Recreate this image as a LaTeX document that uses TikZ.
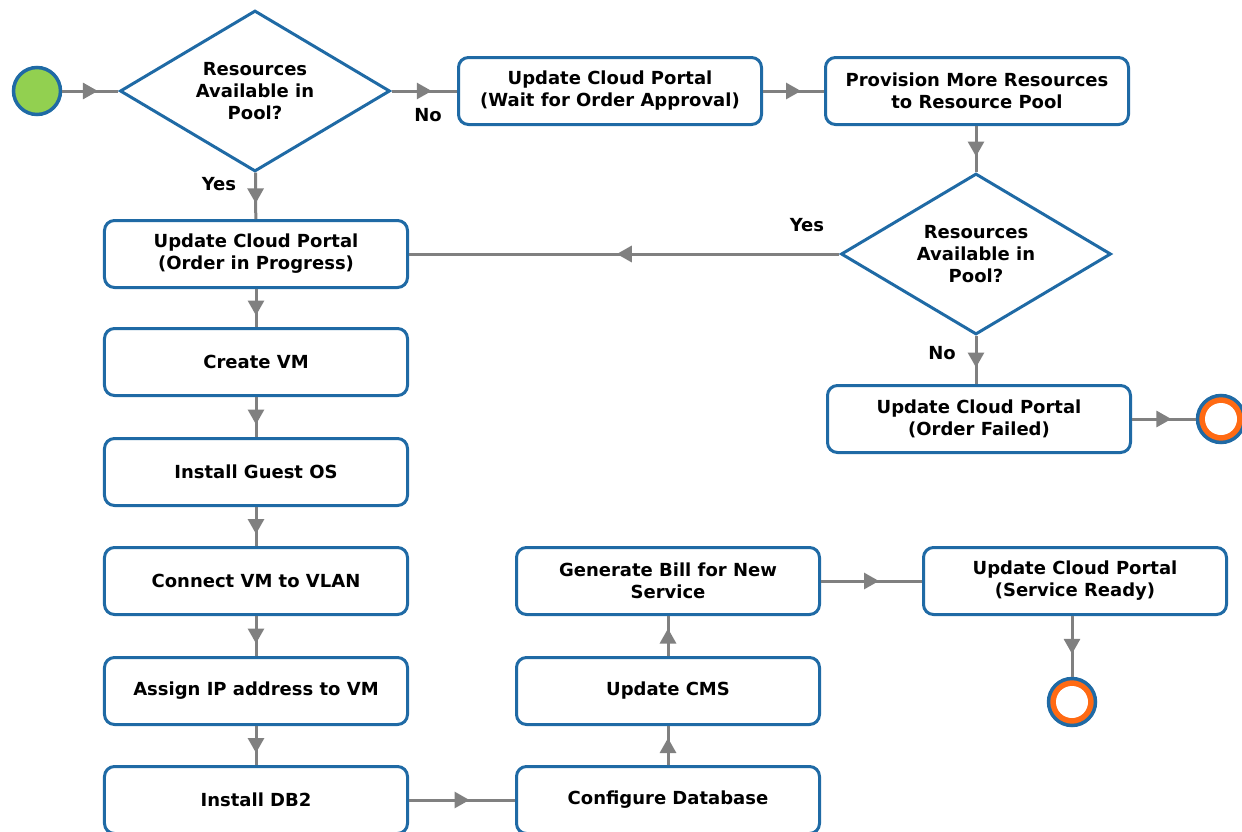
\documentclass[tikz,border=0pt]{standalone}
\usepackage{fontspec}
\setmainfont{DejaVu Sans}
\usetikzlibrary{shapes.geometric,arrows.meta,decorations.markings}
\definecolor{myblue}{HTML}{1F6AA5}
\definecolor{mygreen}{HTML}{92D050}
\definecolor{myorange}{HTML}{FF6A13}
\definecolor{mygray}{HTML}{808080}
\tikzset{
  every node/.style={font=\fontsize{18bp}{22bp}\selectfont\bfseries},
  box/.style={draw=myblue, line width=3bp, rounded corners=10bp, fill=white,
    minimum width=303bp, minimum height=67bp, align=center, inner sep=0pt},
  decision/.style={diamond, draw=myblue, line width=3bp, fill=white,
    minimum width=270bp, minimum height=161bp, inner sep=0pt,
    label={[align=center, inner sep=0pt]center:#1}},
  startc/.style={circle, draw=myblue, line width=3.5bp, fill=mygreen, minimum size=47bp, inner sep=0pt},
  endc/.style={circle, draw=myblue, line width=3.5bp, fill=myorange, minimum size=47bp, inner sep=0pt,
    path picture={\fill[white] (path picture bounding box.center) circle (16bp);}},
  conn/.style={draw=mygray, line width=3bp, postaction={decorate},
    decoration={markings, mark=at position 0.5 with {\arrow[mygray,xshift=7.5bp]{Triangle[length=15bp,width=16bp]}}}},
  lbl/.style={inner sep=0pt}
}
\begin{document}
\begin{tikzpicture}[x=1bp,y=-1bp]
\useasboundingbox (0,0) rectangle (1242,832);
% nodes
\node[startc] (start) at (37,91) {};
\node[decision={Resources\\Available in\\Pool?}] (d1) at (255,91) {};
\node[box] (wait) at (610,91) {Update Cloud Portal\\(Wait for Order Approval)};
\node[box] (prov) at (977,91) {Provision More Resources\\to Resource Pool};
\node[decision={Resources\\Available in\\Pool?}] (d2) at (976,254) {};
\node[box] (prog) at (256,254) {Update Cloud Portal\\(Order in Progress)};
\node[box] (failed) at (979,419) {Update Cloud Portal\\(Order Failed)};
\node[endc] (end1) at (1221,419) {};
\node[box] (vm) at (256,362) {Create VM};
\node[box] (os) at (256,472) {Install Guest OS};
\node[box] (vlan) at (256,581) {Connect VM to VLAN};
\node[box] (ip) at (256,691) {Assign IP address to VM};
\node[box] (db2) at (256,800) {Install DB2};
\node[box] (cfg) at (668,800) {Configure Database};
\node[box] (cms) at (668,691) {Update CMS};
\node[box] (bill) at (668,581) {Generate Bill for New\\Service};
\node[box] (ready) at (1075,581) {Update Cloud Portal\\(Service Ready)};
\node[endc] (end2) at (1072,702) {};
% connectors
\draw[conn] (start) -- (d1);
\draw[conn] (d1) -- (wait);
\draw[conn] (wait) -- (prov);
\draw[conn] (d2.north |- prov.south) -- (d2.north);
\draw[conn] (d2) -- (prog);
\draw[conn] (d2.south) -- (d2.south |- failed.north);
\draw[conn] (failed) -- (end1);
\draw[conn] (d1) -- (prog);
\draw[conn] (prog) -- (vm);
\draw[conn] (vm) -- (os);
\draw[conn] (os) -- (vlan);
\draw[conn] (vlan) -- (ip);
\draw[conn] (ip) -- (db2);
\draw[conn] (db2) -- (cfg);
\draw[conn] (cfg) -- (cms);
\draw[conn] (cms) -- (bill);
\draw[conn] (bill) -- (ready);
\draw[conn] (end2 |- ready.south) -- (end2);
% labels
\node[lbl] (l1) at (428,115) {No};
\node[lbl] (l2) at (219,184) {Yes};
\node[lbl] (l3) at (807,225) {Yes};
\node[lbl] (l4) at (942,353) {No};
\end{tikzpicture}
\end{document}
